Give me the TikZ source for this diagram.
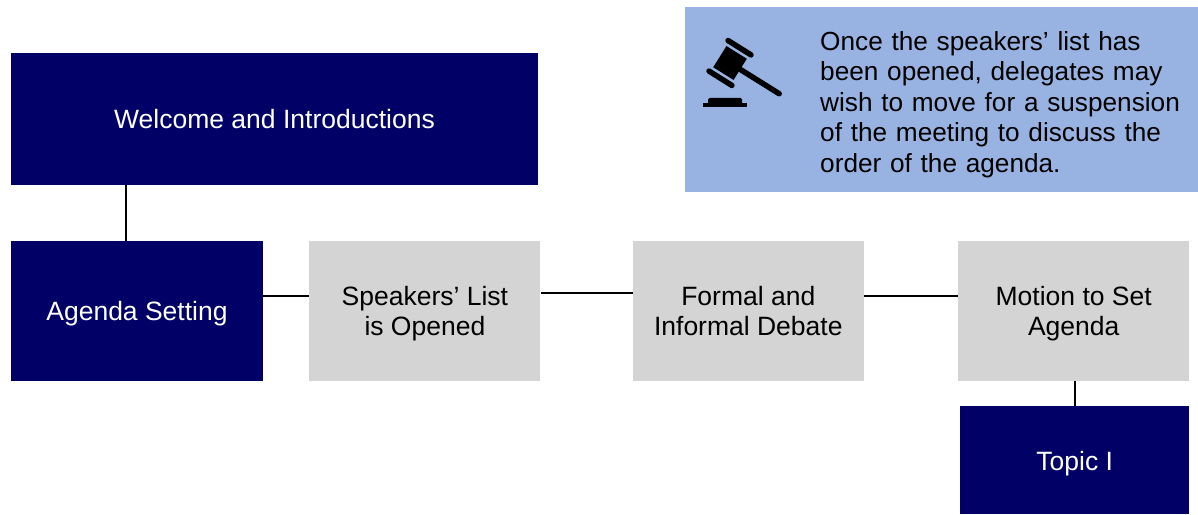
\documentclass[tikz,border=0pt]{standalone}
\usepackage{fontspec}
\setmainfont{Liberation Sans}
\usetikzlibrary{positioning}

\definecolor{navy}{HTML}{000066}
\definecolor{stepgray}{HTML}{D4D4D4}
\definecolor{noteblue}{HTML}{98B2E1}

\tikzset{
  box/.style={rectangle, inner sep=0pt, align=center, text depth=-4pt,
    font=\fontsize{26.5}{30.5}\selectfont},
  mainbox/.style={box, fill=navy, text=white},
  stepbox/.style={box, fill=stepgray, text=black,
    minimum width=231pt, minimum height=140pt},
  link/.style={draw=black, line width=2pt},
}

\begin{document}
\begin{tikzpicture}[x=1pt,y=1pt]
	\useasboundingbox (0,0) rectangle (1198,514);

	\node(agenda)   [mainbox, minimum width=252pt, minimum height=140pt] at (137,203) {Agenda Setting};
	\node(welcome)  [mainbox, minimum width=527pt, minimum height=132pt,
	                 above=56pt of agenda.north west, anchor=south west] {Welcome and Introductions};
	\node(speakers) [stepbox, right=46pt of agenda] {Speakers' List\\is Opened};
	\node(debate)   [stepbox, right=92pt of speakers] {Formal and\\Informal Debate};
	\node(motion)   [stepbox, right=94pt of debate] {Motion to Set\\Agenda};
	\node(topic)    [mainbox, minimum width=229pt, minimum height=108pt,
	                 below=25pt of motion.south east, anchor=north east] {Topic I};

	% note box
	\node(note) [rectangle, fill=noteblue, minimum width=513pt, minimum height=185pt] at (941.5,414.5) {};
	\node(notetext) [box, anchor=north west, text width=370pt, align=left, text depth=0pt,
	                 font=\fontsize{26.2}{30.5}\selectfont] at (820,483)
		{Once the speakers' list has been opened, delegates may wish to move for a suspension of the meeting to discuss the order of the agenda.};

	% gavel
	\begin{scope}[shift={(730,451)}, rotate=-32]
		\fill (-12,-12.5) rectangle (12,12.5);
		\draw[line width=5.5pt, line cap=round] (-13.5,18) -- (13.5,18);
		\draw[line width=5.5pt, line cap=round] (-13.5,-18) -- (13.5,-18);
		\draw[line width=5.5pt, line cap=round] (12,0) -- (58,0);
	\end{scope}
	\fill[rounded corners=1.5pt] (708,410) rectangle (742,416);
	\fill (703,407) rectangle (747,411);

	\draw[link] ([xshift=-11pt]agenda.north) -- ([xshift=-11pt]agenda.north |- welcome.south);
	\draw[link] ([yshift=15pt]agenda.east) -- ([yshift=15pt]agenda.east -| speakers.west);
	\draw[link] ([yshift=18pt]speakers.east) -- ([yshift=18pt]speakers.east -| debate.west);
	\draw[link] ([yshift=15pt]debate.east) -- ([yshift=15pt]debate.east -| motion.west);
	\draw[link] ([xshift=1pt]motion.south) -- ([xshift=1pt]motion.south |- topic.north);
\end{tikzpicture}
\end{document}
